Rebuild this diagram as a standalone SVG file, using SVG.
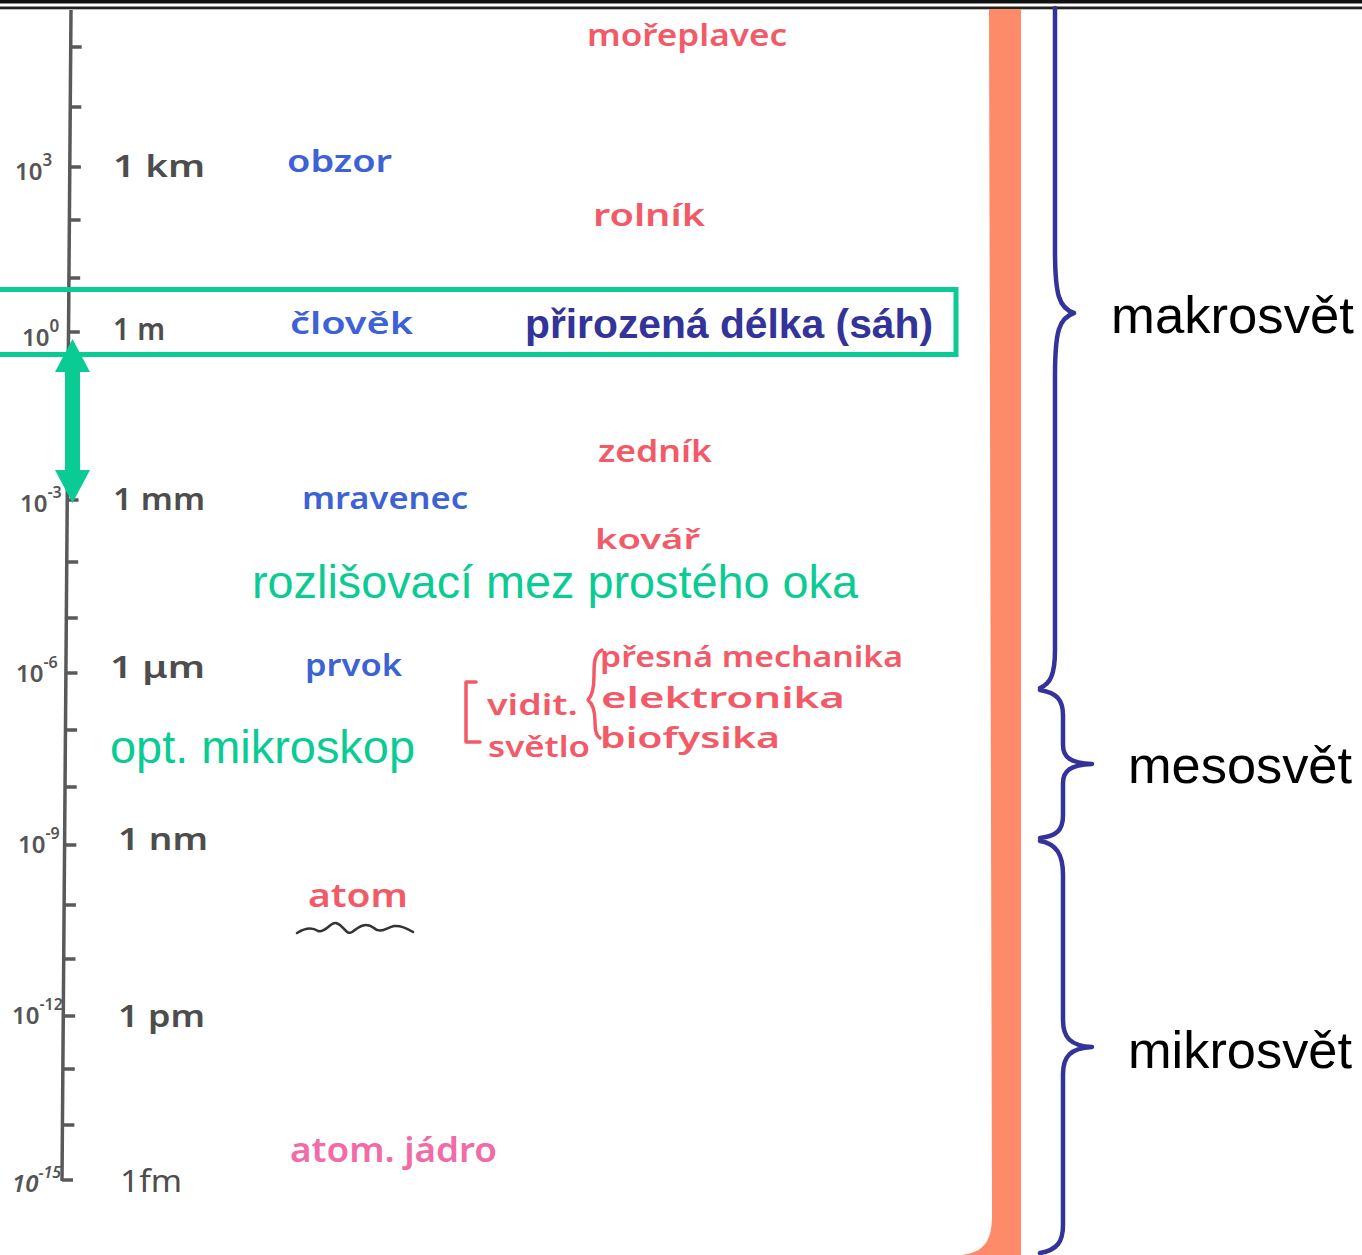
<svg xmlns="http://www.w3.org/2000/svg" width="1362" height="1255" viewBox="0 0 1362 1255">
<style>
.hw{font-family:"Noto Sans","DejaVu Sans",sans-serif;font-weight:600}
.g{fill:#4d4d4d}
.b{fill:#3d62d6}
.r{fill:#f25a68}
.p{fill:#f26aa6}
.ex{font-family:"Noto Sans","DejaVu Sans",sans-serif;font-weight:600;fill:#555;font-size:24px}
.sans{font-family:"Liberation Sans",Arial,sans-serif}
.grn{fill:#0bcb94}
.world{font-family:"Liberation Sans",Arial,sans-serif;font-size:52px;fill:#000}
.brace{fill:none;stroke:#333399;stroke-width:4.5;stroke-linecap:round;stroke-linejoin:round}
.pen{fill:none;stroke:#f25a68;stroke-width:3.5;stroke-linecap:round;stroke-linejoin:round}
</style>
<rect width="1362" height="1255" fill="#fff"/>
<g id="topRule">
<rect x="0" y="0" width="1362" height="3.5" fill="#111"/>
<rect x="0" y="6.5" width="1362" height="2.8" fill="#222"/>
</g>
<g id="orangeBar">
<path d="M989,9 L1021,9 L1021,1255 L962,1255 C985,1252 992,1240 992,1215 Z" fill="#fd8a68"/>
</g>
<g id="axis">
<path d="M71,10 L62,1181" stroke="#595959" stroke-width="3.5" fill="none"/>
<path d="M70.7,47h11 M70.3,107h11 M69.9,167h11 M69.6,220h11 M69.2,278h11 M68.8,332h11 M68.4,390h11 M68,447h11 M67.6,500h11 M67.2,562h11 M66.8,618h11 M66.5,673h11 M66.1,730h11 M65.7,787h11 M65.3,845h11 M64.9,905h11 M64.5,959h11 M64.1,1016h11 M63.8,1069h11 M63.4,1125h11 M62,1180h11" stroke="#595959" stroke-width="3.5" fill="none"/>
</g>
<g id="exponents">
<text class="ex" x="15" y="180">10<tspan font-size="17" dy="-14">3</tspan></text>
<text class="ex" x="22" y="346">10<tspan font-size="17" dy="-14">0</tspan></text>
<text class="ex" x="20" y="512">10<tspan font-size="16" dy="-14">-3</tspan></text>
<text class="ex" x="16" y="682">10<tspan font-size="16" dy="-14">-6</tspan></text>
<text class="ex" x="18" y="853">10<tspan font-size="16" dy="-14">-9</tspan></text>
<text class="ex" x="12" y="1024">10<tspan font-size="16" dy="-14">-12</tspan></text>
<text class="ex" x="12" y="1192" font-style="italic">10<tspan font-size="16" dy="-14">-15</tspan></text>
</g>
<g id="units" class="hw g" font-size="30">
<text x="113" y="177" textLength="92" lengthAdjust="spacingAndGlyphs">1 km</text>
<text x="113" y="340" textLength="52" lengthAdjust="spacingAndGlyphs">1 m</text>
<text x="113" y="510" textLength="92" lengthAdjust="spacingAndGlyphs">1 mm</text>
<text x="110" y="678" textLength="95" lengthAdjust="spacingAndGlyphs">1 μm</text>
<text x="118" y="850" textLength="90" lengthAdjust="spacingAndGlyphs">1 nm</text>
<text x="118" y="1027" textLength="87" lengthAdjust="spacingAndGlyphs">1 pm</text>
<text x="120" y="1192" textLength="62" lengthAdjust="spacingAndGlyphs" font-weight="400">1fm</text>
</g>
<g id="objects-blue" class="hw b" font-size="30">
<text x="287" y="172" textLength="105" lengthAdjust="spacingAndGlyphs">obzor</text>
<text x="290" y="334" textLength="123" lengthAdjust="spacingAndGlyphs">člověk</text>
<text x="302" y="509" textLength="166" lengthAdjust="spacingAndGlyphs">mravenec</text>
<text x="305" y="676" textLength="97" lengthAdjust="spacingAndGlyphs">prvok</text>
</g>
<g id="professions-red" class="hw r" font-size="30">
<text x="587" y="46" textLength="200" lengthAdjust="spacingAndGlyphs">mořeplavec</text>
<text x="593" y="226" textLength="112" lengthAdjust="spacingAndGlyphs">rolník</text>
<text x="598" y="462" textLength="114" lengthAdjust="spacingAndGlyphs">zedník</text>
<text x="595" y="549" font-size="27" textLength="105" lengthAdjust="spacingAndGlyphs">kovář</text>
</g>
<g id="atom">
<text class="hw r" font-size="32" x="308" y="907" textLength="100" lengthAdjust="spacingAndGlyphs">atom</text>
<path d="M297,933 C305,928 312,927 318,931 C326,933 330,922 336,923 C344,925 346,936 352,932 C360,926 366,922 374,928 C380,934 386,928 394,926 C402,925 408,929 413,932" fill="none" stroke="#333" stroke-width="2.5" stroke-linecap="round"/>
</g>
<g id="nucleus">
<text class="hw p" font-size="34" x="290" y="1162" textLength="207" lengthAdjust="spacingAndGlyphs">atom. jádro</text>
</g>
<g id="mesoNotes">
<path class="pen" d="M476,682 L466,682 L466,742 L480,742"/>
<text class="hw r" font-size="28" x="487" y="715" textLength="91" lengthAdjust="spacingAndGlyphs">vidit.</text>
<text class="hw r" font-size="28" x="488" y="757" textLength="102" lengthAdjust="spacingAndGlyphs">světlo</text>
<path class="pen" d="M602,650 C594,654 594,664 594,676 C594,690 592,696 588,700 C593,704 595,712 595,722 C595,730 596,736 600,738"/>
<text class="hw r" font-size="28" x="600" y="667" textLength="303" lengthAdjust="spacingAndGlyphs">přesná mechanika</text>
<text class="hw r" font-size="28" x="601" y="708" textLength="244" lengthAdjust="spacingAndGlyphs">elektronika</text>
<text class="hw r" font-size="28" x="600" y="748" textLength="180" lengthAdjust="spacingAndGlyphs">biofysika</text>
</g>
<g id="naturalLength">
<rect x="-5" y="289.5" width="961" height="65" fill="none" stroke="#0bcb94" stroke-width="5"/>
<text class="sans" x="525" y="338" font-size="40" font-weight="bold" fill="#333399" textLength="408" lengthAdjust="spacingAndGlyphs">přirozená délka (sáh)</text>
</g>
<g id="eyeLimit">
<text class="sans grn" x="252" y="598" font-size="47" textLength="606" lengthAdjust="spacingAndGlyphs">rozlišovací mez prostého oka</text>
</g>
<g id="microscope">
<text class="sans grn" x="110" y="763" font-size="47" textLength="305" lengthAdjust="spacingAndGlyphs">opt. mikroskop</text>
</g>
<g id="connectors">
<path d="M72.5,339 L90,372 L80,372 L80,470 L90,470 L72.5,503 L55,470 L65,470 L65,372 L55,372 Z" fill="#0bcb94"/>
<path class="brace" d="M1055,8 L1055,250 C1055,295 1059,308 1074,313 C1059,318 1055,331 1055,376 L1055,650 C1055,675 1050,684 1040,688"/>
<path class="brace" d="M1040,690 C1057,693 1063,700 1063,715 L1063,745 C1063,757 1070,763 1092,764 C1070,765 1063,771 1063,783 L1063,815 C1063,830 1057,836 1040,838"/>
<path class="brace" d="M1040,841 C1057,844 1063,855 1063,875 L1063,1020 C1063,1037 1070,1046 1092,1047 C1070,1048 1063,1057 1063,1074 L1063,1225 C1063,1242 1057,1250 1040,1253"/>
</g>
<g id="makrosvet"><text class="world" x="1111" y="333" textLength="243" lengthAdjust="spacingAndGlyphs">makrosvět</text></g>
<g id="mesosvet"><text class="world" x="1128" y="783" textLength="224" lengthAdjust="spacingAndGlyphs">mesosvět</text></g>
<g id="mikrosvet"><text class="world" x="1128" y="1068" textLength="224" lengthAdjust="spacingAndGlyphs">mikrosvět</text></g>
</svg>
